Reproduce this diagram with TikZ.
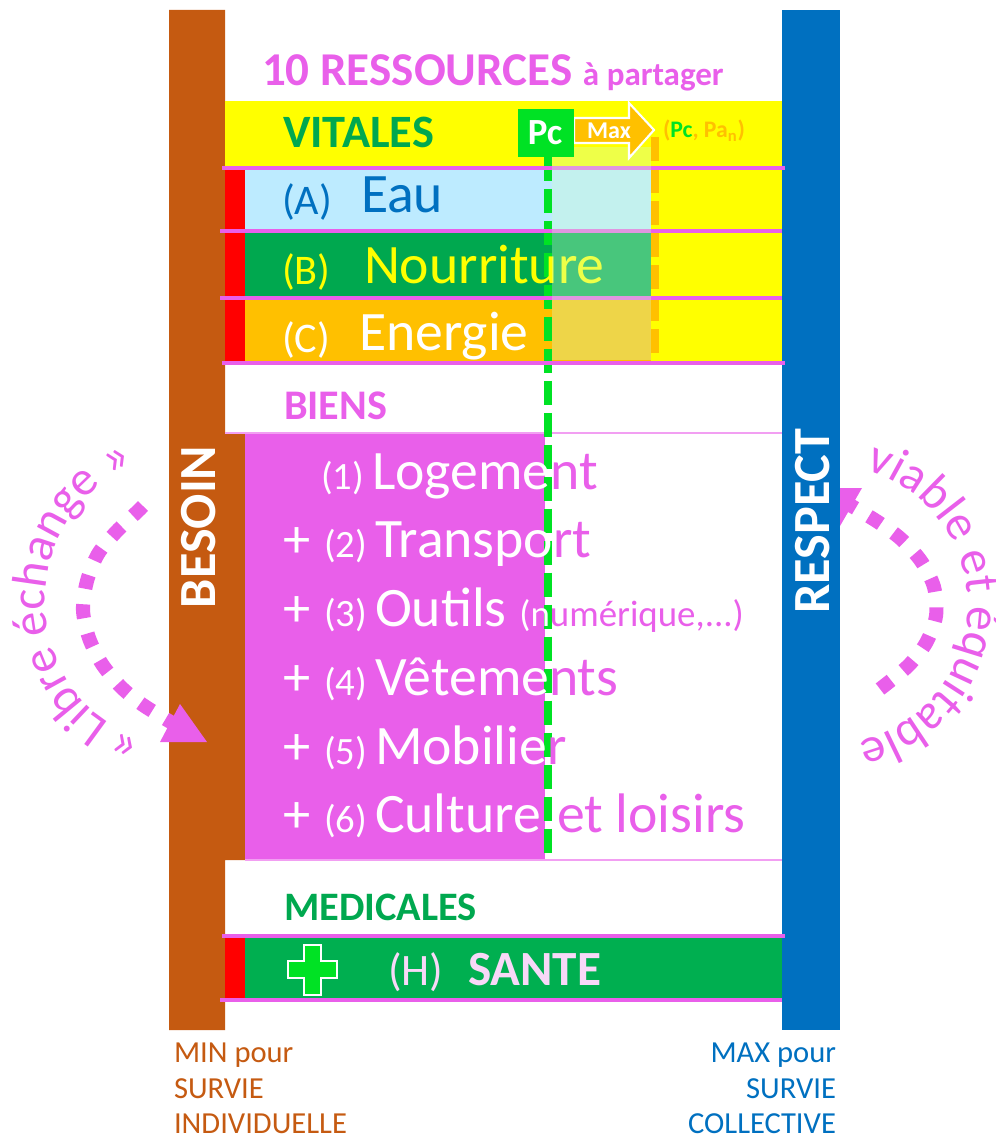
\documentclass[tikz,border=0pt]{standalone}
\usepackage{fontspec}
\setmainfont{Carlito}
\usetikzlibrary{decorations.text}
\definecolor{brun}{HTML}{C55A11}
\definecolor{bleu}{HTML}{0070C0}
\definecolor{bleuclair}{HTML}{BDEBFF}
\definecolor{rose}{HTML}{E95FEA}
\definecolor{vert}{HTML}{00A84F}
\definecolor{vertsante}{HTML}{00AF50}
\definecolor{vertpc}{HTML}{00E224}
\definecolor{jaune}{HTML}{FFFF00}
\definecolor{ambre}{HTML}{FFC000}
\definecolor{voile}{HTML}{D0FFD0}
\definecolor{rosepale}{HTML}{F8D8F8}
\newcommand{\fpx}[1]{\fontsize{#1}{#1}\selectfont}
\tikzset{
  txt/.style={anchor=base west,inner sep=0pt,outer sep=0pt},
  txtr/.style={anchor=base east,inner sep=0pt,outer sep=0pt},
  titre/.style={txt,font=\fpx{24}\bfseries},
  ligne/.style={font=\fpx{31.7}},
  lettre/.style={font=\fpx{24}},
  bien/.style={txt,text=white,font=\fpx{31.7}},
  num/.style={txt,text=white,font=\fpx{22}},
  plus/.style={txt,text=white,font=\fpx{31}},
  bas/.style={font=\fpx{17.4}},
  barre/.style={rotate=90,text=white,font=\fpx{29.7}\bfseries,inner sep=0pt},
  filet/.style={draw=rose,line width=2.3pt},
  mince/.style={draw=rose!60,line width=0.6pt},
  tirets/.style={line width=4.5pt,dash pattern=on 13.7pt off 4.5pt},
  point/.style={draw=rose,line width=8pt,dash pattern=on 8pt off 8.9pt}
}
\begin{document}
\begin{tikzpicture}[x=0.02cm,y=-0.02cm]
\useasboundingbox (0,0) rectangle (996,1138);
\coordinate (G) at (545,0);
% barres et fonds
\fill [brun] (169,10) rectangle (225,1030) (225,432) rectangle (245,860);
\fill [bleu] (782,10) rectangle (840,1030);
\fill [jaune] (225,101) rectangle (782,364);
\fill [red] (225,168) rectangle (245,364) (225,936) rectangle (245,1000);
\fill [bleuclair] (245,168) rectangle (651,231);
\fill [vert] (245,231) rectangle (651,298);
\fill [ambre] (245,298) rectangle (651,364);
\fill [rose] (245,433) rectangle (G |- 0,860);
\fill [vertsante] (245,936) rectangle (782,1000);
\draw [mince] (225,433)--(782,433) (245,860)--(782,860);
% pointilles
\draw [vertpc,tirets] (548,157)--(548,860);
\draw [ambre,tirets] (655,137)--(655,360);
\draw [filet] (222,168)--(785,168) (220,231)--(782,231) (220,298)--(782,298) (222,363)--(785,363);
\draw [filet] (222,936)--(785,936) (220,1000)--(782,1000);
% titres
\node [titre,text=rose,font=\fpx{26.8}\bfseries] (titre) at (262,86) {10 RESSOURCES \fpx{18.8}à partager};
\node [titre,text=vert,font=\fpx{26.4}\bfseries] (vitales) at (283,148) {VITALES};
\node [titre,text=rose] (biens) at (284,419) {BIENS};
\node [titre,text=vert,font=\fpx{23}\bfseries] (medicales) at (284,920) {MEDICALES};
% ressources vitales
\node [txt,lettre,text=bleu] (A) at (282,215) {(A)};
\node [txt,ligne,text=bleu] (eau) at (361,213) {Eau};
\node [txt,lettre,text=jaune] (B) at (282,285) {(B)};
\node [txt,ligne,text=jaune] (nourriture) at (364,283) {Nourriture};
\node [txt,lettre,text=white] (C) at (282,352) {(C)};
\node [txt,ligne,text=white] (energie) at (359,350) {Energie};
% biens
\node [num] (n1) at (321,489) {(1)};
\node [bien] (logement) at (372,489) {Logeme\textcolor{rose}{nt}};
\node [plus] (p2) at (283,557) {+};
\node [num] (n2) at (324,557) {(2)};
\node [bien] (transport) at (375,557) {Transpo\textcolor{rose}{rt}};
\node [plus] (p3) at (283,626) {+};
\node [num] (n3) at (324,626) {(3)};
\node [bien] (outils) at (375,626) {Outils \fpx{21}(n\textcolor{rose}{umérique,...)}};
\node [plus] (p4) at (283,695) {+};
\node [num] (n4) at (324,695) {(4)};
\node [bien] (vetements) at (375,695) {Vêteme\textcolor{rose}{nts}};
\node [plus] (p5) at (283,764) {+};
\node [num] (n5) at (324,764) {(5)};
\node [bien] (mobilier) at (375,764) {Mobilie\textcolor{rose}{r}};
\node [plus] (p6) at (283,832) {+};
\node [num] (n6) at (324,832) {(6)};
\node [bien] (culture) at (375,832) {Culture\hspace{2pt} \textcolor{rose}{et loisirs}};
% sante
\draw [white,line width=1.2pt,fill=vertpc] (304,945)--(321,945)--(321,961)--(337,961)--(337,978)--(321,978)--(321,995)--(304,995)--(304,978)--(288,978)--(288,961)--(304,961)--cycle;
\node [txt,text=rosepale,font=\fpx{25.6}] (H) at (388,985) {(H)};
\node [txt,text=rosepale,font=\fpx{28}\bfseries] (sante) at (468,985) {SANTE};
% voile, fleche, Pc
\fill [voile,opacity=0.35] (552,147) rectangle (651,360);
\draw [white,line width=1.2pt,fill=ambre] (574,118)--(629,118)--(629,103)--(654,130)--(629,158)--(629,143)--(574,143)--cycle;
\node [anchor=base,text=white,font=\fpx{13.7}\bfseries,inner sep=0pt] (max) at (609,139) {Max};
\node [fill=vertpc,minimum width=1.12cm,minimum height=0.96cm,inner sep=0pt] (pc) at (546,133) {};
\node [anchor=base,text=white,font=\fpx{21}\bfseries,inner sep=0pt] (pctxt) at (545,145) {Pc};
\node [txt,text=ambre,font=\fpx{13.5}\bfseries] (couple) at (663,138) {(\textcolor{vertpc}{Pc}, Pa\textsubscript{n})};
% noms des barres
\node [barre] (besoin) at (199,527) {BESOIN};
\node [barre] (respect) at (813,521) {RESPECT};
% textes du bas
\node [txt,bas,text=brun] (min1) at (174,1062) {MIN pour};
\node [txt,bas,text=brun] (min2) at (174,1098) {SURVIE};
\node [txt,bas,text=brun] (min3) at (174,1133) {INDIVIDUELLE};
\node [txtr,bas,text=bleu] (max1) at (836,1062) {MAX pour};
\node [txtr,bas,text=bleu] (max2) at (836,1098) {SURVIE};
\node [txtr,bas,text=bleu] (max3) at (836,1133) {COLLECTIVE};
% arcs
\draw [point] plot [smooth] coordinates {(143,506) (137,512) (116,532) (98,554) (87,581) (83,610) (89,638) (102,664) (121,687) (143,705) (174,724)};
\fill [rose] (180,704)--(207,742)--(160,742)--cycle;
\draw [point] plot [smooth] coordinates {(880,689) (908,666) (926,643) (936,616) (934,587) (921,561) (901,539) (878,522) (850,505)};
\fill [rose] (862,488)--(840,488)--(840,526)--cycle;
\path [decorate,decoration={text along path,text align=center,text={|\fpx{28}\color{rose}|« Libre échange »}}]
  plot [domain=108:248,samples=40] ({178+133*cos(\x)},{601+143*sin(\x)});
\path [decorate,decoration={text along path,text align=center,text={|\fpx{28}\color{rose}|viable et équitable}}]
  plot [domain=-75:78,samples=40] ({828+140*cos(\x)},{605+140*sin(\x)});
\end{tikzpicture}
\end{document}
